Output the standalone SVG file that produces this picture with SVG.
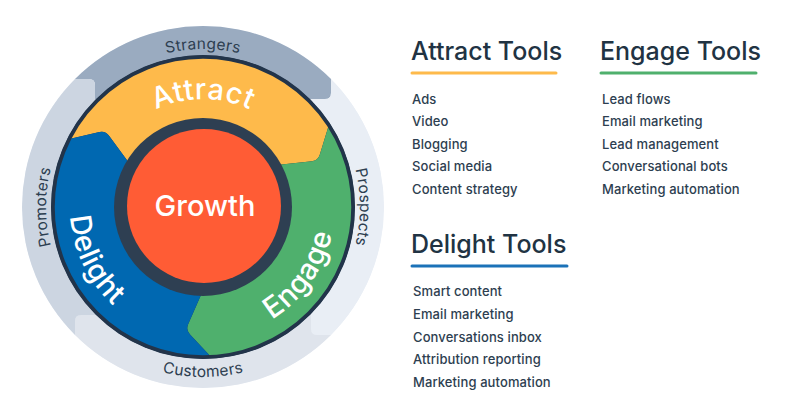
<svg xmlns="http://www.w3.org/2000/svg" width="800" height="420" viewBox="0 0 800 420">
<style>
.band{font-family:Inter,"Noto Sans",sans-serif;font-size:15.5px;fill:#2D3E50;font-weight:400;letter-spacing:0.3px}
.seg{font-family:Inter,"Noto Sans",sans-serif;font-size:29px;fill:#FFFFFF;font-weight:500;letter-spacing:0.6px}
.head{font-family:Inter,"Noto Sans",sans-serif;font-size:25px;fill:#213343;font-weight:500}
.item{font-family:Inter,"Noto Sans",sans-serif;font-size:13px;fill:#2D3E50;font-weight:500;letter-spacing:0.1px}
.ul{stroke-width:3;stroke-linecap:round}
</style>
<defs>
<clipPath id="outerClip"><circle cx="0" cy="0" r="181"/></clipPath>
<path id="bandShape" d="M -250 -250 L 128 -250 L 128 -114 Q 128 -108 122 -108 L -108 -108 L -108 -122 Q -108 -128 -114 -128 L -250 -128 Z"/>
<path id="pStrangers" d="M 45 207 A 158 158 0 0 1 361 207"/>
<path id="pProspects" d="M 203 50 A 157 157 0 0 1 203 364"/>
<path id="pPromoters" d="M 203 364 A 157 157 0 0 1 203 50"/>
<path id="pCustomers" d="M 33 207 A 170 170 0 0 0 373 207"/>
<path id="pAttract" d="M 95 207 A 108 108 0 0 1 311 207"/>
<path id="pEngage" d="M 137 321.3 A 132 132 0 0 0 287.85 105.9"/>
<path id="pDelight" d="M 134.5 93 A 133 133 0 0 0 250.7 331.2"/>
</defs>

<g id="outer-band" transform="translate(203,207)" clip-path="url(#outerClip)">
  <circle cx="0" cy="0" r="181" fill="#E9EEF5"/>
  <use href="#bandShape" fill="#9AABC0"/>
  <use href="#bandShape" fill="#E9EEF5" transform="rotate(90)"/>
  <use href="#bandShape" fill="#DFE4EC" transform="rotate(180)"/>
  <use href="#bandShape" fill="#CCD5E1" transform="rotate(270)"/>
</g>

<g id="band-labels">
  <text class="band"><textPath href="#pStrangers" startOffset="50%" text-anchor="middle">Strangers</textPath></text>
  <text class="band"><textPath href="#pProspects" startOffset="50%" text-anchor="middle">Prospects</textPath></text>
  <text class="band"><textPath href="#pCustomers" startOffset="50%" text-anchor="middle">Customers</textPath></text>
  <text class="band"><textPath href="#pPromoters" startOffset="50%" text-anchor="middle">Promoters</textPath></text>
</g>

<circle cx="203" cy="207" r="152" fill="#22344A"/>

<g id="attract">
  <path d="M 69.35 138.9 A 150 150 0 0 1 328.8 125.3 L 319.76 154.81 Q 318 160.55 312.04 161.21 L 277 165.1 A 85 85 0 0 0 129.8 163.9 L 108.86 135.53 Q 105.3 130.7 99.45 132.03 Z" fill="#FEBA4B"/>
  <text class="seg"><textPath href="#pAttract" startOffset="50%" text-anchor="middle">Attract</textPath></text>
</g>
<g id="engage">
  <path d="M 328.8 125.3 A 150 150 0 0 1 210.85 356.8 L 189.79 334.19 Q 185.7 329.8 188.11 324.3 L 202.26 292 A 85 85 0 0 0 277 165.1 L 312.04 161.21 Q 318 160.55 319.76 154.81 Z" fill="#4FB06D"/>
  <text class="seg"><textPath href="#pEngage" startOffset="50%" text-anchor="middle">Engage</textPath></text>
</g>
<g id="delight">
  <path d="M 210.85 356.8 A 150 150 0 0 1 69.35 138.9 L 99.45 132.03 Q 105.3 130.7 108.86 135.53 L 129.8 163.9 A 85 85 0 0 0 202.26 292 L 188.11 324.3 Q 185.7 329.8 189.79 334.19 Z" fill="#0068B1"/>
  <text class="seg"><textPath href="#pDelight" startOffset="50%" text-anchor="middle">Delight</textPath></text>
</g>

<circle cx="203" cy="207" r="150" fill="none" stroke="#22344A" stroke-width="3.5"/>

<g id="growth">
  <circle cx="203" cy="207" r="89" fill="#2E3F52"/>
  <circle cx="204" cy="206" r="77" fill="#FF5C35"/>
  <text x="205" y="216" text-anchor="middle" font-family="Inter,'Noto Sans',sans-serif" font-size="29" font-weight="500" fill="#FFFFFF">Growth</text>
</g>

<g id="attract-tools">
  <text class="head" x="411" y="60">Attract Tools</text>
  <line class="ul" x1="412" y1="73" x2="556" y2="73" stroke="#FEBA4B"/>
  <text class="item" x="412" y="104">Ads</text>
  <text class="item" x="412" y="126">Video</text>
  <text class="item" x="412" y="149">Blogging</text>
  <text class="item" x="412" y="171">Social media</text>
  <text class="item" x="412" y="194">Content strategy</text>
</g>

<g id="engage-tools">
  <text class="head" x="600" y="60">Engage Tools</text>
  <line class="ul" x1="601" y1="73" x2="756" y2="73" stroke="#4FB06D"/>
  <text class="item" x="602" y="104">Lead flows</text>
  <text class="item" x="602" y="126">Email marketing</text>
  <text class="item" x="602" y="149">Lead management</text>
  <text class="item" x="602" y="171">Conversational bots</text>
  <text class="item" x="602" y="194">Marketing automation</text>
</g>

<g id="delight-tools">
  <text class="head" x="411" y="253">Delight Tools</text>
  <line class="ul" x1="412" y1="266" x2="567" y2="266" stroke="#1B72B8"/>
  <text class="item" x="413" y="296">Smart content</text>
  <text class="item" x="413" y="319">Email marketing</text>
  <text class="item" x="413" y="342">Conversations inbox</text>
  <text class="item" x="413" y="364">Attribution reporting</text>
  <text class="item" x="413" y="387">Marketing automation</text>
</g>
</svg>
